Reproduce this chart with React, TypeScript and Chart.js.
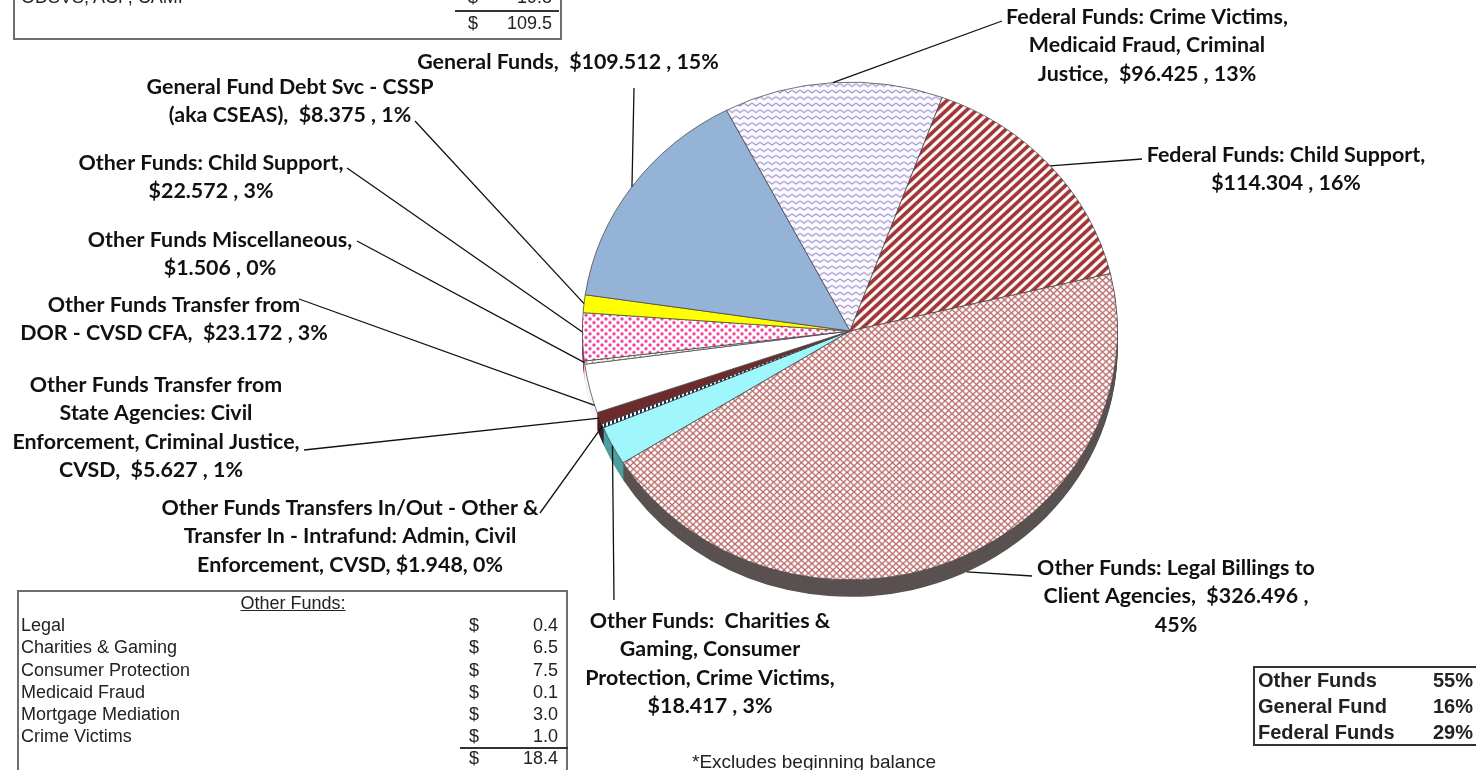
import React, { useEffect, useRef } from "react";
import { Chart, registerables } from "chart.js";

Chart.register(...registerables);

// ---------- data ----------
const categories = [
  "Federal Funds: Crime Victims, Medicaid Fraud, Criminal Justice",
  "Federal Funds: Child Support",
  "Other Funds: Legal Billings to Client Agencies",
  "Other Funds: Charities & Gaming, Consumer Protection, Crime Victims",
  "Other Funds Transfers In/Out - Other & Transfer In - Intrafund: Admin, Civil Enforcement, CVSD",
  "Other Funds Transfer from State Agencies: Civil Enforcement, Criminal Justice, CVSD",
  "Other Funds Transfer from DOR - CVSD CFA",
  "Other Funds Miscellaneous",
  "Other Funds: Child Support",
  "General Fund Debt Svc - CSSP (aka CSEAS)",
  "General Funds",
];
const values = [96.425, 114.304, 326.496, 18.417, 1.948, 5.627, 23.172, 1.506, 22.572, 8.375, 109.512];

const labelLines: string[][] = [
  ["Federal Funds: Crime Victims,", "Medicaid Fraud, Criminal", "Justice,  $96.425 , 13%"],
  ["Federal Funds: Child Support,", "$114.304 , 16%"],
  ["Other Funds: Legal Billings to", "Client Agencies,  $326.496 ,", "45%"],
  ["Other Funds:  Charities &", "Gaming, Consumer", "Protection, Crime Victims,", "$18.417 , 3%"],
  ["Other Funds Transfers In/Out - Other &", "Transfer In - Intrafund: Admin, Civil", "Enforcement, CVSD, $1.948, 0%"],
  ["Other Funds Transfer from", "State Agencies: Civil", "Enforcement, Criminal Justice,", "CVSD,  $5.627 , 1%"],
  ["Other Funds Transfer from", "DOR - CVSD CFA,  $23.172 , 3%"],
  ["Other Funds Miscellaneous,", "$1.506 , 0%"],
  ["Other Funds: Child Support,", "$22.572 , 3%"],
  ["General Fund Debt Svc - CSSP", "(aka CSEAS),  $8.375 , 1%"],
  ["General Funds,  $109.512 , 15%"],
];

const generalItems = ["ODSVS, ACP, CAMI"];
const generalAmounts = ["19.8"];
const generalTotal = "109.5";

const otherItems = ["Legal", "Charities & Gaming", "Consumer Protection", "Medicaid Fraud", "Mortgage Mediation", "Crime Victims"];
const otherAmounts = ["0.4", "6.5", "7.5", "0.1", "3.0", "1.0"];
const otherTotal = "18.4";

const fundTypes = ["Other Funds", "General Fund", "Federal Funds"];
const fundShares = ["55%", "16%", "29%"];

const footnote = "*Excludes beginning balance";

// ---------- layout / style ----------
const SCALE_Y = 0.93;
const DEPTH = 17;
const LABEL_FONT = "700 21.4px Lato";
const LINE_H = 28.5;

type LabelPos = { cx: number; y: number; sx: number; sy: number; frac: number; side?: boolean; dx?: number[] };
const labelLayout: LabelPos[] = [
  { cx: 1147, y: 17, sx: 1002, sy: 21, frac: 0.5 },
  { cx: 1286, y: 155, sx: 1142, sy: 159, frac: 0.5 },
  { cx: 1176, y: 568, sx: 1032, sy: 576, frac: 0.48, side: true },
  { cx: 710, y: 621, sx: 614, sy: 600, frac: 0.5 },
  { cx: 350, y: 508, sx: 540, sy: 513, frac: 0.5 },
  { cx: 156, y: 385, sx: 304, sy: 450, frac: 0.5, dx: [0, 0, 0, -5] },
  { cx: 174, y: 305, sx: 299, sy: 299, frac: 0.15 },
  { cx: 220, y: 240, sx: 357, sy: 241, frac: 0.5 },
  { cx: 211, y: 163, sx: 347, sy: 168, frac: 0.6 },
  { cx: 290, y: 87, sx: 415, sy: 121, frac: 0.5 },
  { cx: 568, y: 62, sx: 634, sy: 88, frac: 0.5 },
];

function makePattern(w: number, h: number, bg: string, draw: (g: CanvasRenderingContext2D) => void) {
  const c = document.createElement("canvas");
  c.width = w;
  c.height = h;
  const g = c.getContext("2d") as CanvasRenderingContext2D;
  g.fillStyle = bg;
  g.fillRect(0, 0, w, h);
  draw(g);
  return g.createPattern(c, "repeat") as CanvasPattern;
}

function buildFills() {
  const zigzag = makePattern(8, 7, "#fbfaff", (g) => {
    g.strokeStyle = "#a192cc";
    g.lineWidth = 1.1;
    g.beginPath();
    g.moveTo(0, 2);
    g.lineTo(4, 5);
    g.lineTo(8, 2);
    g.stroke();
  });
  const stripes = makePattern(10, 10, "#ffffff", (g) => {
    g.strokeStyle = "#a23636";
    g.lineWidth = 3.8;
    g.beginPath();
    g.moveTo(-1, 11);
    g.lineTo(11, -1);
    g.moveTo(-6, 6);
    g.lineTo(6, -6);
    g.moveTo(4, 16);
    g.lineTo(16, 4);
    g.stroke();
  });
  const cross = makePattern(7, 7, "#ffffff", (g) => {
    g.strokeStyle = "#bb6a6a";
    g.lineWidth = 1.35;
    g.beginPath();
    g.moveTo(0, 0);
    g.lineTo(7, 7);
    g.moveTo(0, 7);
    g.lineTo(7, 0);
    g.stroke();
  });
  const darkDash = makePattern(4, 4, "#ffffff", (g) => {
    g.fillStyle = "#1d2b4a";
    g.fillRect(0, 0, 2, 4);
  });
  const greenDots = makePattern(6, 6, "#ffffff", (g) => {
    g.fillStyle = "#6aaa3a";
    g.beginPath();
    g.arc(1.5, 1.5, 1, 0, Math.PI * 2);
    g.arc(4.5, 4.5, 1, 0, Math.PI * 2);
    g.fill();
  });
  const pinkDots = makePattern(8, 8, "#ffffff", (g) => {
    g.fillStyle = "#f2399b";
    g.beginPath();
    g.arc(2, 2, 1.7, 0, Math.PI * 2);
    g.fill();
    g.beginPath();
    g.arc(6, 6, 1.7, 0, Math.PI * 2);
    g.fill();
  });
  return [zigzag, stripes, cross, "#9ff6fb", darkDash, "#6e2b2b", "#ffffff", greenDots, pinkDots, "#ffff00", "#95b3d7"];
}

const sideColors = ["#8a80a6", "#6e2626", "#5a5151", "#4f9ea0", "#1d2b4a", "#4a1c1c", "#f4f4f4", "#e0e0e0", "#b0306e", "#b8b800", "#5f7fa8"];

const pie3d = {
  id: "pie3d",
  beforeDatasetsDraw(chart: any) {
    const ctx = chart.ctx as CanvasRenderingContext2D;
    const meta = chart.getDatasetMeta(0);
    const el0 = meta.data[0];
    const cx = el0.x;
    const cy = el0.y;
    ctx.save();
    ctx.translate(cx, cy);
    ctx.scale(1, SCALE_Y);
    ctx.translate(-cx, -cy);
    for (let d = DEPTH; d >= 1; d -= 1) {
      meta.data.forEach((el: any, i: number) => {
        const off = d / SCALE_Y;
        ctx.beginPath();
        ctx.moveTo(el.x, el.y + off);
        ctx.arc(el.x, el.y + off, el.outerRadius, el.startAngle, el.endAngle);
        ctx.closePath();
        ctx.fillStyle = sideColors[i];
        ctx.fill();
      });
    }
  },
  afterDatasetsDraw(chart: any) {
    chart.ctx.restore();
  },
  afterDraw(chart: any) {
    const ctx = chart.ctx as CanvasRenderingContext2D;
    const meta = chart.getDatasetMeta(0);
    ctx.save();
    ctx.strokeStyle = "#111";
    ctx.lineWidth = 1.3;
    ctx.fillStyle = "#111";
    ctx.font = LABEL_FONT;
    ctx.textAlign = "center";
    ctx.textBaseline = "middle";
    meta.data.forEach((el: any, i: number) => {
      const L = labelLayout[i];
      const a = el.startAngle + (el.endAngle - el.startAngle) * L.frac;
      const px = el.x + el.outerRadius * Math.cos(a);
      const py = el.y + el.outerRadius * Math.sin(a) * SCALE_Y + (L.side ? DEPTH : 0);
      ctx.beginPath();
      ctx.moveTo(L.sx, L.sy);
      ctx.lineTo(px, py);
      ctx.stroke();
      labelLines[i].forEach((line, k) => {
        const dx = L.dx ? L.dx[k] : 0;
        ctx.fillText(line, L.cx + dx, L.y + k * LINE_H);
      });
    });
    ctx.restore();
  },
};

const tableFont = "'Liberation Sans', Arial, sans-serif";

function T(props: { x?: number; r?: number; y: number; size?: number; bold?: boolean; underline?: boolean; children: any; center?: boolean }) {
  const size = props.size ?? 18;
  const style: any = {
    position: "absolute",
    top: props.y - size * 0.6,
    lineHeight: `${size * 1.2}px`,
    fontSize: size,
    fontFamily: tableFont,
    fontWeight: props.bold ? 700 : 400,
    color: "#222",
    whiteSpace: "nowrap",
    textDecoration: props.underline ? "underline" : "none",
  };
  if (props.center) {
    style.left = (props.x ?? 0) - 200;
    style.width = 400;
    style.textAlign = "center";
  } else if (props.r !== undefined) {
    style.right = 1476 - props.r;
  } else {
    style.left = props.x;
  }
  return <div style={style}>{props.children}</div>;
}

export default function App() {
  const ref = useRef<HTMLCanvasElement>(null);
  useEffect(() => {
    const canvas = ref.current as HTMLCanvasElement;
    const chart = new Chart(canvas, {
      type: "pie",
      data: {
        labels: categories,
        datasets: [
          {
            data: values,
            backgroundColor: buildFills() as any,
            borderColor: "#4a4a4a",
            borderWidth: 0.8,
          },
        ],
      },
      options: {
        responsive: false,
        animation: false,
        rotation: -27.5,
        layout: { padding: { left: 582, right: 358, top: 63, bottom: 171 } },
        plugins: { legend: { display: false }, tooltip: { enabled: false } },
      },
      plugins: [pie3d as any],
    });
    return () => chart.destroy();
  }, []);

  const otherRowY = (i: number) => 626 + i * 22.2;
  return (
    <div style={{ position: "fixed", left: 0, top: 0, width: 1476, height: 770, overflow: "hidden", background: "#fff" }}>
      <canvas ref={ref} width={1476} height={770} style={{ position: "absolute", left: 0, top: 0, width: 1476, height: 770 }} />

      {/* top-left general funds table (partially visible) */}
      <div style={{ position: "absolute", left: 13, top: -60, width: 549, height: 100, border: "2px solid #6e6e6e", boxSizing: "border-box" }} />
      {generalItems.map((t, i) => (
        <React.Fragment key={t}>
          <T x={21} y={-2}>{t}</T>
          <T x={468} y={-2}>$</T>
          <T r={552} y={-2}>{generalAmounts[i]}</T>
        </React.Fragment>
      ))}
      <div style={{ position: "absolute", left: 455, top: 10, width: 104, height: 2, background: "#333" }} />
      <T x={468} y={24}>$</T>
      <T r={552} y={24}>{generalTotal}</T>

      {/* bottom-left other funds table */}
      <div style={{ position: "absolute", left: 17, top: 590, width: 551, height: 190, border: "2px solid #6e6e6e", boxSizing: "border-box" }} />
      <T x={293} y={604} center underline>Other Funds:</T>
      {otherItems.map((t, i) => (
        <React.Fragment key={t}>
          <T x={21} y={otherRowY(i)}>{t}</T>
          <T x={469} y={otherRowY(i)}>$</T>
          <T r={558} y={otherRowY(i)}>{otherAmounts[i]}</T>
        </React.Fragment>
      ))}
      <div style={{ position: "absolute", left: 460, top: 747, width: 108, height: 2, background: "#333" }} />
      <T x={469} y={759}>$</T>
      <T r={558} y={759}>{otherTotal}</T>

      {/* bottom-right fund share table */}
      <div style={{ position: "absolute", left: 1253, top: 666, width: 240, height: 80, border: "2px solid #333", boxSizing: "border-box" }} />
      {fundTypes.map((t, i) => (
        <React.Fragment key={t}>
          <T x={1258} y={680 + i * 26} size={20} bold>{t}</T>
          <T r={1473} y={680 + i * 26} size={20} bold>{fundShares[i]}</T>
        </React.Fragment>
      ))}

      <T x={692} y={762} size={19}>{footnote}</T>
    </div>
  );
}
